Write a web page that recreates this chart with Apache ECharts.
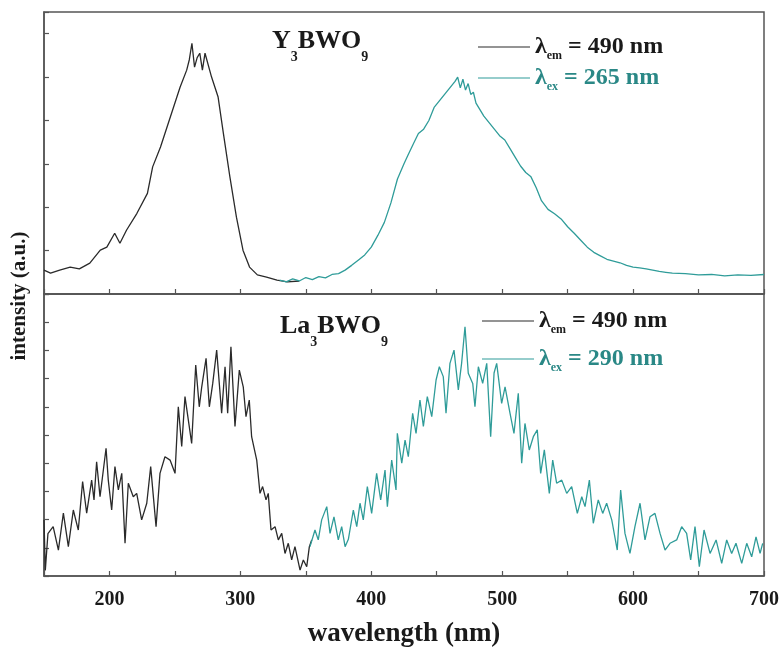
<!DOCTYPE html>
<html>
<head>
<meta charset="utf-8">
<script src="https://cdn.jsdelivr.net/npm/echarts@6/dist/echarts.min.js"></script>
<style>html,body{margin:0;padding:0;background:#fff;}#c{width:782px;height:650px;}</style>
</head>
<body>
<div id="c"></div>
<script>
// ---- Data ----
// Y3BWO9, excitation spectrum (monitored at 490 nm) - black
const y3ExcWl  = [150,155,162,170,177,185,193,198,204,208,213,221,229,233,239,244,249,254,259,261,263,265,267,269,271,273,278,283,287,292,297,302,307,313,320,328,336,345];
const y3ExcInt = [0.55,0.48,0.55,0.62,0.58,0.71,1.01,1.08,1.40,1.17,1.47,1.86,2.32,2.93,3.39,3.85,4.31,4.77,5.16,5.40,5.78,5.23,5.45,5.55,5.16,5.55,5.00,4.54,3.71,2.70,1.77,1.01,0.62,0.44,0.39,0.32,0.28,0.30];
// Y3BWO9, emission spectrum (excited at 265 nm) - teal
const y3EmiWl  = [330,335,340,345,350,355,360,365,370,375,380,385,390,395,400,405,410,415,420,425,428,432,436,440,444,448,452,456,460,464,466,468,470,472,474,476,478,480,483,486,490,494,498,502,506,510,514,518,522,526,530,535,540,545,550,555,560,565,570,575,580,585,590,595,600,605,610,615,620,625,630,640,650,660,670,680,690,700];
const y3EmiInt = [0.32,0.28,0.35,0.30,0.38,0.33,0.40,0.37,0.45,0.47,0.55,0.66,0.78,0.90,1.08,1.35,1.65,2.10,2.65,3.00,3.20,3.45,3.70,3.80,4.00,4.30,4.45,4.60,4.75,4.90,5.00,4.75,4.95,4.70,4.85,4.60,4.65,4.40,4.25,4.10,3.95,3.80,3.65,3.55,3.35,3.15,2.95,2.80,2.70,2.45,2.15,1.95,1.85,1.73,1.55,1.40,1.24,1.08,0.96,0.88,0.80,0.76,0.72,0.66,0.62,0.60,0.58,0.55,0.52,0.50,0.48,0.47,0.44,0.45,0.42,0.44,0.43,0.45];
// La3BWO9, excitation spectrum (monitored at 490 nm) - black
const la3ExcWl  = [150,151,153,157,161,164.8,168.6,172.4,176.2,179.5,182.6,186.4,188.2,190.2,192.8,197.4,199.1,201.7,204.2,206.8,209.4,211.9,214.4,218.2,220.8,224.6,228.5,231.5,235.6,238.6,242.4,246.3,250.1,252.6,255.2,257.7,262.8,265.9,268.6,270.5,273.8,276.3,278.9,281.9,285.7,288.3,290.3,292.8,295.9,299.2,302.2,304.3,306.8,308.6,312.5,315,317,319.6,321.3,323.4,326.5,329,331.6,334.1,336.6,339.2,341.7,345.6,348.1,350.7,352.7,354.5];
const la3ExcInt = [1.99,0.20,1.50,1.75,0.92,2.23,1.04,2.34,1.63,3.35,2.23,3.40,2.70,4.05,2.81,4.53,3.40,2.34,3.88,3.05,3.64,1.16,3.29,2.81,2.93,1.99,2.58,3.88,1.75,3.64,4.23,4.11,3.64,6.00,4.59,6.36,4.70,7.48,6.00,6.71,7.72,6.00,6.83,8.01,5.77,7.42,5.77,8.13,5.30,7.30,6.71,5.65,6.24,4.94,4.11,2.93,3.17,2.70,2.93,1.63,1.75,1.28,1.51,0.80,1.16,0.57,1.04,0.21,0.57,0.33,1.04,1.28];
// La3BWO9, emission spectrum (excited at 290 nm) - teal
const la3EmiWl  = [353.2,357,359.5,362.1,366,368.5,371.5,374.8,377.4,380,382.5,386.3,388.9,391.4,393.9,397,400.3,404.1,407.2,410.5,412.3,415.6,418.9,419.9,423.3,425.8,428.3,431.6,434.2,437.2,439.8,442.8,446.2,449.5,452,455,457.1,460.1,463.2,466.5,469,471.6,474.1,477.5,479.2,481.8,485.1,488.2,491.2,493.8,495.8,499.6,502.2,506,509,512.3,514.9,517.4,520.7,523.8,526.8,529.4,532.2,536,538.6,541.6,545.5,549.3,553.1,557.4,560.8,563.3,566.6,569.6,573.4,576.8,579.8,583.7,587.9,590.5,593.8,597.6,601.4,605.3,609.1,612.9,616.7,620.6,624.4,628.2,633.3,637.1,640.9,644,647.3,650.6,654.2,658.8,663.4,667.7,671.5,675.3,678.6,683,686.8,690.6,693.9,697,699];
const la3EmiInt = [1.04,1.63,1.28,1.99,2.46,1.51,2.10,1.28,1.75,1.04,1.30,2.34,1.75,2.58,1.99,3.17,2.22,3.64,2.70,3.76,2.46,4.11,3.05,5.06,4.00,4.82,4.23,5.77,5.06,6.24,5.30,6.36,5.65,6.95,7.42,7.07,5.77,7.54,8.01,6.60,7.54,8.84,7.19,6.83,6.00,7.42,6.83,7.54,4.94,7.20,7.54,6.12,6.71,5.77,5.06,6.48,4.00,5.41,4.47,4.94,5.18,3.64,4.47,2.93,4.11,3.29,3.40,2.93,3.17,2.22,2.81,2.46,3.40,1.87,2.70,2.22,2.58,1.99,0.92,3.05,1.51,0.80,1.75,2.58,1.28,2.10,2.22,1.51,0.92,1.16,1.28,1.75,1.51,0.57,1.75,0.33,1.63,0.80,1.28,0.45,1.28,0.80,1.16,0.45,1.16,0.68,1.39,0.80,1.16];

const xTicks = [200,300,400,500,600,700];

const pairs = (xs, ys) => xs.map((x, i) => [x, ys[i]]);

const SERIF = "'Liberation Serif','Times New Roman',serif";
const FRAME = '#555';
const BLACK = '#2a2a2a';
const TEAL = '#2f9c99';
const TEAL_TXT = '#2a8886';

const legendRich = {
  l: {fontFamily: SERIF, fontWeight: 'bold', fontSize: 24, lineHeight: 24, verticalAlign: 'middle'},
  s: {fontFamily: SERIF, fontWeight: 'bold', fontSize: 12, lineHeight: 30, verticalAlign: 'bottom'},
  t: {fontFamily: SERIF, fontWeight: 'bold', fontSize: 24, lineHeight: 24, verticalAlign: 'middle'}
};
const legendText = {
  'Y3 exc': '{l|λ}{s|em}{t| = 490 nm}',
  'Y3 emi': '{l|λ}{s|ex}{t| = 265 nm}',
  'La3 exc': '{l|λ}{s|em}{t| = 490 nm}',
  'La3 emi': '{l|λ}{s|ex}{t| = 290 nm}'
};

function xAxisDef(gridIndex, showLabels) {
  return {
    type: 'value', gridIndex: gridIndex, min: 150, max: 700, interval: 50,
    axisLine: {show: true, lineStyle: {color: FRAME, width: 1.5}},
    axisTick: {show: true, inside: true, length: 5, lineStyle: {color: FRAME, width: 1.2}},
    splitLine: {show: false},
    axisLabel: {
      show: showLabels, margin: 14, color: '#1a1a1a', fontFamily: SERIF, fontWeight: 'bold', fontSize: 20,
      formatter: v => (xTicks.indexOf(v) >= 0 ? String(v) : '')
    },
    name: showLabels ? 'wavelength (nm)' : '',
    nameLocation: 'middle', nameGap: 45,
    nameTextStyle: {color: '#1a1a1a', fontFamily: SERIF, fontWeight: 'bold', fontSize: 27}
  };
}
function yAxisDef(gridIndex, max) {
  return {
    type: 'value', gridIndex: gridIndex, min: 0, max: max, interval: 1,
    axisLine: {show: true, lineStyle: {color: FRAME, width: 1.5}},
    axisTick: {show: true, inside: true, length: 5, lineStyle: {color: FRAME, width: 1.2}},
    axisLabel: {show: false}, splitLine: {show: false}
  };
}
function lineSeries(name, xi, data, color) {
  return {
    name: name, type: 'line', xAxisIndex: xi, yAxisIndex: xi, data: data,
    symbol: 'none', smooth: false, animation: false,
    lineStyle: {color: color, width: 1.3}, itemStyle: {color: color}
  };
}
function legendDef(names, left, top, gap) {
  return {
    orient: 'vertical', left: left, top: top, itemGap: gap, itemWidth: 52, itemHeight: 14,
    padding: 0,
    icon: 'path://M0,0 L52,0 L52,1 L0,1 Z',
    selectedMode: false,
    data: names.map((n, i) => ({name: n, textStyle: {color: i === 0 ? '#1a1a1a' : TEAL_TXT}})),
    formatter: n => legendText[n],
    textStyle: {fontFamily: SERIF, fontWeight: 'bold', fontSize: 24, rich: legendRich}
  };
}

const titleRich = {
  b: {fontFamily: SERIF, fontWeight: 'bold', fontSize: 26, lineHeight: 28, verticalAlign: 'middle', fill: '#1a1a1a'},
  s: {fontFamily: SERIF, fontWeight: 'bold', fontSize: 14, lineHeight: 46, verticalAlign: 'bottom', fill: '#1a1a1a'}
};

const chart = echarts.init(document.getElementById('c'), null, {renderer: 'canvas'});
chart.setOption({
  backgroundColor: '#fff',
  animation: false,
  grid: [
    {left: 44, right: 18, top: 12, height: 282, show: true, borderColor: FRAME, borderWidth: 1.5, backgroundColor: 'transparent'},
    {left: 44, right: 18, top: 294, height: 282, show: true, borderColor: FRAME, borderWidth: 1.5, backgroundColor: 'transparent'}
  ],
  xAxis: [xAxisDef(0, false), xAxisDef(1, true)],
  yAxis: [yAxisDef(0, 6.5), yAxisDef(1, 10)],
  legend: [
    legendDef(['Y3 exc', 'Y3 emi'], 478, 35, 4),
    legendDef(['La3 exc', 'La3 emi'], 482, 309, 11)
  ],
  series: [
    lineSeries('Y3 exc', 0, pairs(y3ExcWl, y3ExcInt), BLACK),
    lineSeries('Y3 emi', 0, pairs(y3EmiWl, y3EmiInt), TEAL),
    lineSeries('La3 exc', 1, pairs(la3ExcWl, la3ExcInt), BLACK),
    lineSeries('La3 emi', 1, pairs(la3EmiWl, la3EmiInt), TEAL)
  ],
  graphic: [
    {type: 'text', left: 272, top: 28, style: {text: '{b|Y}{s|3}{b|BWO}{s|9}', fill: '#1a1a1a', rich: titleRich}},
    {type: 'text', left: 280, top: 313, style: {text: '{b|La}{s|3}{b|BWO}{s|9}', fill: '#1a1a1a', rich: titleRich}},
    {type: 'text', x: 20, y: 296, rotation: Math.PI / 2, style: {
      text: 'intensity (a.u.)', align: 'center', verticalAlign: 'middle',
      fontFamily: SERIF, fontWeight: 'bold', fontSize: 21, fill: '#1a1a1a'}}
  ]
});
</script>
</body>
</html>
